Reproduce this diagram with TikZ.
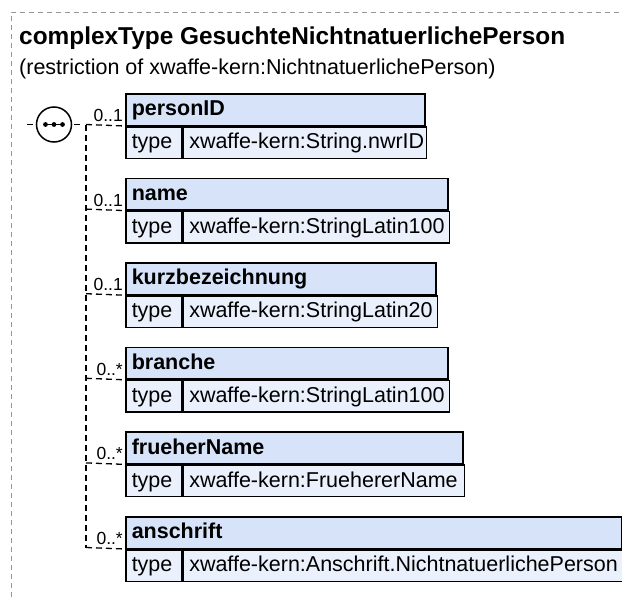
\documentclass[tikz,border=0pt]{standalone}
\usepackage{fontspec}
\setmainfont{Liberation Sans}
\definecolor{hdrfill}{RGB}{214,227,248}
\definecolor{rowfill}{RGB}{234,241,252}
\definecolor{framegray}{RGB}{150,150,150}
\newcommand\boxfont{\fontsize{21.5pt}{25pt}\selectfont}
\newcommand\xelem[7]{%
  \node[hdrbox, text width=#5pt] (h#1) at (125,#2) {\mbox{#3}};
  \node[rowbox, text width=44pt] (l#1) at (h#1.south west) {\mbox{type}};
  \node[rowbox, text width=#6pt] (v#1) at (l#1.north east) {\mbox{xwaffe-kern:#4}};
  \coordinate (j#1) at (86,{#2+31.5});
  \draw[conn] (j#1) -- (h#1.south west);
  \node[mult] (m#1) at ([shift={(-2,-4.5)}]h#1.south west) {#7};
}
\tikzset{
  hdrbox/.style={draw=black, line width=1.5pt, fill=hdrfill, anchor=north west,
    minimum height=31.5pt, inner xsep=6pt, inner ysep=0pt, align=left,
    font=\boxfont\bfseries, text height=15.5pt, text depth=3pt},
  rowbox/.style={draw=black, line width=1.5pt, fill=rowfill, anchor=north west,
    minimum height=31.5pt, inner xsep=6pt, inner ysep=0pt, align=left,
    font=\boxfont, text height=15.5pt, text depth=3pt},
  conn/.style={line width=1.3pt, dash pattern=on 6pt off 4pt},
  mult/.style={font=\fontsize{17.5pt}{20pt}\selectfont, inner sep=0pt, anchor=base east},
  frameline/.style={draw=framegray, line width=1pt, dash pattern=on 5pt off 4pt},
  seqc/.style={circle, draw=black, line width=1.5pt, fill=white, minimum size=35pt, inner sep=0pt},
}
\begin{document}
\begin{tikzpicture}[x=1pt,y=-1pt]
\useasboundingbox (0,0) rectangle (622,597);
% outer frame (top and left only)
\coordinate (fbl) at (11,597);
\coordinate (ftl) at (11,12);
\coordinate (ftr) at (622,12);
\draw[frameline] (fbl) -- (ftl) -- (ftr);
% title
\node[anchor=base west, inner sep=0pt, font=\fontsize{24.4pt}{28pt}\selectfont\bfseries] (title) at (19,44) {complexType GesuchteNichtnatuerlichePerson};
\node[anchor=base west, inner sep=0pt, font=\boxfont] (sub) at (19,74) {(restriction of xwaffe-kern:NichtnatuerlichePerson)};
% elements
\xelem{1}{93}{personID}{String.nwrID}{287}{231}{0..1}
\xelem{2}{177.6}{name}{StringLatin100}{310}{254}{0..1}
\xelem{3}{262.2}{kurzbezeichnung}{StringLatin20}{298}{242}{0..1}
\xelem{4}{346.8}{branche}{StringLatin100}{310}{254}{0..*}
\xelem{5}{431.4}{frueherName}{FruehererName}{325}{269}{0..*}
\xelem{6}{516}{anschrift}{Anschrift.NichtnatuerlichePerson}{484}{428}{0..*}
% vertical connector
\draw[conn] (j1) -- (j6);
% sequence symbol
\node[seqc] (seq) at (54,124.5) {};
\draw[line width=1.2pt] ([shift={(-10,0)}]seq.center) -- ([shift={(10,0)}]seq.center);
\fill ([shift={(-8.5,0)}]seq.center) circle (2.4pt);
\fill (seq.center) circle (2.4pt);
\fill ([shift={(8.5,0)}]seq.center) circle (2.4pt);
\coordinate (sl) at (27,124.5);
\coordinate (sr) at (80,124.5);
\draw[line width=1.3pt] (sl) -- ([shift={(-2.5,0)}]seq.west);
\draw[line width=1.3pt] ([shift={(1.5,0)}]seq.east) -- (sr);
\end{tikzpicture}
\end{document}
